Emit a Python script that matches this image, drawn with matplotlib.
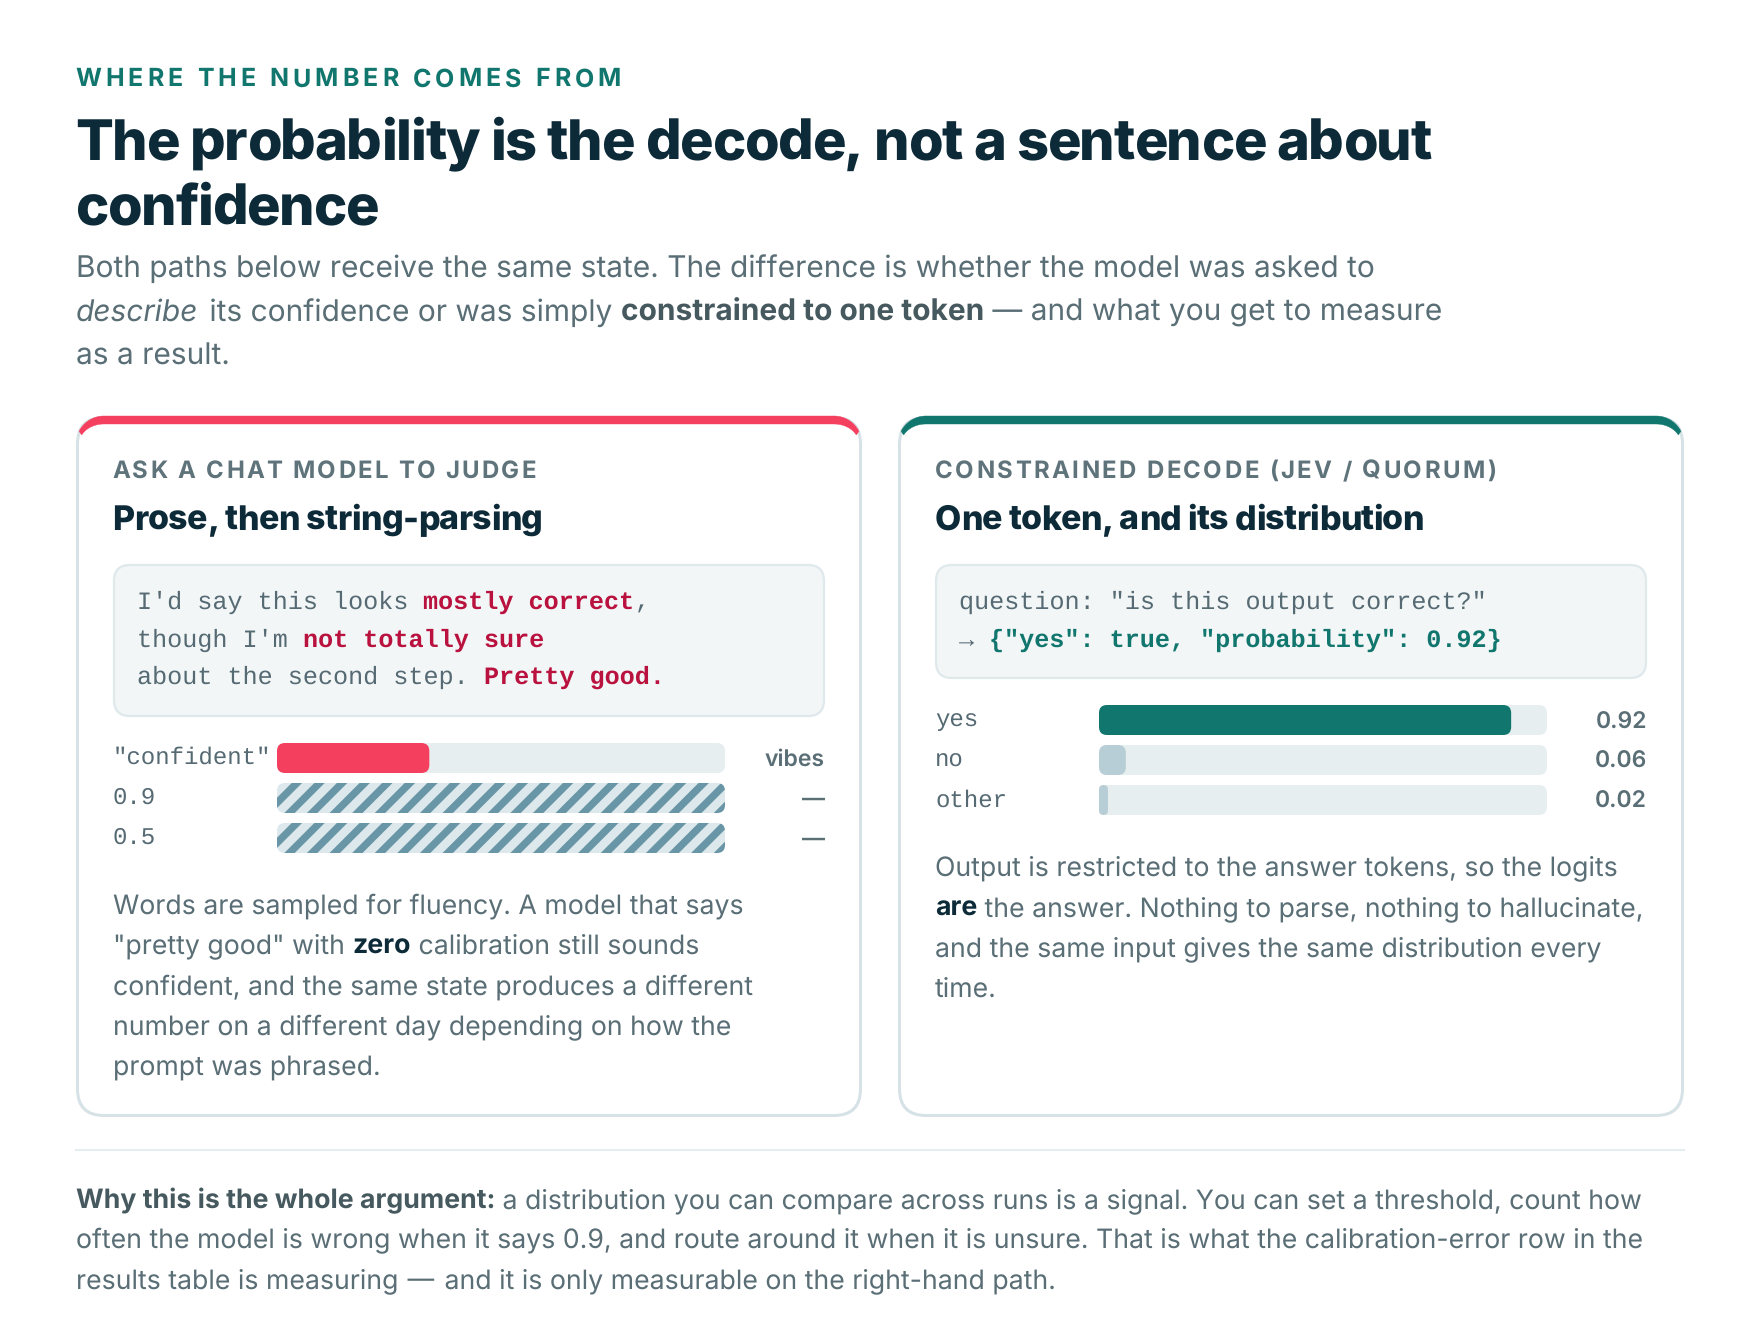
import numpy as np
import matplotlib
matplotlib.use("Agg")
import matplotlib.pyplot as plt
from matplotlib.font_manager import FontProperties
from matplotlib.patches import FancyBboxPatch, Polygon

# data
left_labels = ['"confident"', '0.9', '0.5']
left_values = [0.34, None, None]
left_readouts = ['vibes', '—', '—']
right_labels = ['yes', 'no', 'other']
right_values = [0.92, 0.06, 0.02]
right_readouts = ['0.92', '0.06', '0.02']

TEAL = '#11766d'
RED = '#f43f5e'
CRIMSON = '#b9123f'
INK = '#0d2a38'
BODY = '#5a6e76'
KICKER = '#5f737b'
MONO = '#566a73'
TRACK = '#e6eef0'
BORDER = '#d6e2e6'

plt.rcParams['text.hinting'] = 'none'

W, H = 1760, 1328
fig = plt.figure(figsize=(W / 100, H / 100), dpi=100, facecolor='white')
ax = fig.add_axes([0, 0, 1, 1])
ax.set_xlim(0, W)
ax.set_ylim(H, 0)
ax.axis('off')
renderer = fig.canvas.get_renderer()


def prop(family='Inter', size=28, weight='normal', style='normal'):
    return FontProperties(family=family, size=size * 0.72, weight=weight, style=style)


def width(s, fp):
    a = renderer.get_text_width_height_descent('.' + s + '.', fp, False)[0]
    b = renderer.get_text_width_height_descent('..', fp, False)[0]
    return a - b


def runs(x, y, parts, size, family='Inter', color=BODY):
    # inline runs of differently styled text on one baseline, a number is a gap
    for p in parts:
        if isinstance(p, (int, float)):
            x += p
            continue
        if isinstance(p, str):
            p = (p, {})
        txt, st = p
        fp = prop(family, size, st.get('weight', 'normal'), st.get('style', 'normal'))
        ax.text(x, y, txt, fontproperties=fp, color=st.get('color', color), va='baseline')
        x += width(txt, fp)
    return x


def tracked(x, y, txt, size, weight, color, target):
    # letter-spaced line, spacing chosen so the line is target pixels wide
    fp = prop('Inter', size, weight)
    letter = (target - width(txt, fp)) / (len(txt) - 1)
    for i, ch in enumerate(txt):
        ax.text(x + width(txt[:i], fp) + i * letter, y, ch, fontproperties=fp, color=color, va='baseline')


def corner_band(x0, y0, x1, r, top, side, color):
    # thick top border of a card, tapering round both corners
    t = np.linspace(np.pi / 2, np.pi * 0.85, 30)
    outer = np.c_[x0 + r + r * np.cos(t), y0 + r - r * np.sin(t)]
    inner = np.c_[x0 + r + (r - side) * np.cos(t), y0 + r - (r - top) * np.sin(t)]
    left = np.r_[outer, inner[::-1]]
    right = left.copy()
    right[:, 0] = x0 + x1 - right[:, 0]
    mid = np.array([[x0 + r, y0], [x1 - r, y0], [x1 - r, y0 + top], [x0 + r, y0 + top]])
    for pts in (left, right, mid):
        ax.add_patch(Polygon(pts, closed=True, fc=color, ec=color, lw=0.3, zorder=3))


def card(x0, y0, x1, y1, accent):
    ax.add_patch(FancyBboxPatch((x0, y0), x1 - x0, y1 - y0, boxstyle='round,pad=0,rounding_size=28',
                                fc=BORDER, ec='none', zorder=1))
    ax.add_patch(FancyBboxPatch((x0 + 3, y0 + 3), x1 - x0 - 6, y1 - y0 - 6, boxstyle='round,pad=0,rounding_size=25',
                                fc='white', ec='none', zorder=2))
    corner_band(x0, y0, x1, 28, 8, 3, accent)


def code_box(x0, y0, x1, y1):
    ax.add_patch(FancyBboxPatch((x0 + 1, y0 + 1), x1 - x0 - 2, y1 - y0 - 2, boxstyle='round,pad=0,rounding_size=16',
                                fc='#f2f6f7', ec='#dfe8eb', lw=1.6, zorder=3))


def bar_rows(x0, y0, labels, values, readouts, fills, read_x, label_x, label_dy):
    # one small axes per bar group: x is the probability 0..1, y the row
    tw, pitch = 448, 40
    bax = fig.add_axes([x0 / W, 1 - (y0 + pitch * 3 - 10) / H, tw / W, (pitch * 3 - 10) / H])
    bax.set_xlim(0, 1)
    bax.set_ylim(2.375, -0.375)
    bax.axis('off')
    bax.patch.set_alpha(0)
    aspect = tw / pitch
    for i, v in enumerate(values):
        track = FancyBboxPatch((0, i - 0.375), 1, 0.75, boxstyle='round,pad=0,rounding_size=%f' % (8 / tw),
                               mutation_aspect=aspect, fc=TRACK, ec='none')
        bax.add_patch(track)
        top = y0 + i * pitch
        if v is None:
            track.set_facecolor('#dde8ec')
            # diagonal stripes, in pixels of the row
            clip = FancyBboxPatch((x0, top), tw, 30, boxstyle='round,pad=0,rounding_size=8', transform=ax.transData)
            for k in range(-1, 24):
                a = x0 + 14.7 + 22.6 * (k - 1)
                b = a + 10.4
                s = Polygon([[a, top], [b, top], [b - 30, top + 30], [a - 30, top + 30]], closed=True,
                            fc='#6896a6', ec='none', zorder=4, transform=ax.transData)
                bax.add_patch(s)
                s.set_clip_path(clip)
        else:
            r = min(8, v * tw / 2) / tw
            bax.add_patch(FancyBboxPatch((0, i - 0.375), v, 0.75, boxstyle='round,pad=0,rounding_size=%f' % r,
                                         mutation_aspect=aspect, fc=fills[i], ec='none'))
        ax.text(label_x, top + 21.5 + label_dy, labels[i], fontproperties=prop('Liberation Mono', 24), color=MONO, va='baseline')
        ax.text(read_x, top + 23, readouts[i], fontproperties=prop('Inter', 23, 600), color=BODY, va='baseline', ha='right')


BD = {'weight': 'bold', 'color': '#46595f'}
BK = {'weight': 'bold', 'color': '#0d2a38'}

tracked(75, 86.5, 'WHERE THE NUMBER COMES FROM', 25, 'bold', TEAL, 546)
tracked(75, 160, 'The probability is the decode, not a sentence about', 56, 800, INK, 1357)
tracked(75, 225, 'confidence', 56, 800, INK, 304)
runs(76, 277, ['Both paths below receive the same state. The difference is whether the model was asked to'], 29.9)
runs(76, 321, [('describe', {'style': 'italic'}), 3, ' its confidence or was simply ', ('constrained to one token', BD),
               ' — and what you get to measure'], 29.9)
runs(76, 365, ['as a result.'], 29.9)

card(76, 416, 862, 1117, RED)
card(898, 416, 1684, 1117, TEAL)

tracked(112, 478, 'ASK A CHAT MODEL TO JUDGE', 24, 'bold', KICKER, 424)
tracked(935, 478, 'CONSTRAINED DECODE (JEV / QUORUM)', 24, 'bold', KICKER, 561)
tracked(112, 530, 'Prose, then string-parsing', 34, 800, INK, 431)
tracked(935, 530, 'One token, and its distribution', 34, 800, INK, 489)

code_box(113, 564, 825, 717)
code_box(935, 564, 1647, 679)
R = {'weight': 'bold', 'color': CRIMSON}
G = {'weight': 'bold', 'color': TEAL}
runs(137, 609, ["I'd say this looks ", ('mostly correct', R), ','], 25.12, family='Liberation Mono', color=MONO)
runs(137, 647, ["though I'm ", ('not totally sure', R)], 25.12, family='Liberation Mono', color=MONO)
runs(137, 684, ['about the second step. ', ('Pretty good.', R)], 25.12, family='Liberation Mono', color=MONO)
runs(959, 609, ['question: "is this output correct?"'], 25.12, family='Liberation Mono', color=MONO)
runs(959, 647, ['→ ', ('{"yes": true, "probability": 0.92}', G)], 25.12, family='Liberation Mono', color=MONO)

bar_rows(277, 743, left_labels, left_values, left_readouts, [RED, None, None], 825, 113, -1)
bar_rows(1099, 705, right_labels, right_values, right_readouts, [TEAL, '#b8ced6', '#b8ced6'], 1647, 935, 0)

runs(113, 913.5, ['Words are sampled for fluency. A model that says'], 26.7)
runs(113, 953.5, ['"pretty good" with ', ('zero', BK), ' calibration still sounds'], 26.7)
runs(113, 995, ['confident, and the same state produces a different'], 26.7)
runs(113, 1035.5, ['number on a different day depending on how the'], 26.7)
runs(113, 1074.5, ['prompt was phrased.'], 26.7)

runs(935, 875.5, ['Output is restricted to the answer tokens, so the logits'], 26.7)
runs(935, 916, [('are', BK), ' the answer. Nothing to parse, nothing to hallucinate,'], 26.7)
runs(935, 956, ['and the same input gives the same distribution every'], 26.7)
runs(935, 996.5, ['time.'], 26.7)

ax.plot([76, 1684], [1150, 1150], color='#e6edef', lw=1.5)

runs(76, 1208, [('Why this is the whole argument:', BD), ' a distribution you can compare across runs is a signal. You can set a threshold, count how'], 26.7)
runs(76, 1248, ['often the model is wrong when it says 0.9, and route around it when it is unsure. That is what the calibration-error row in the'], 26.7)
runs(76, 1288, ['results table is measuring', 2, ' —', 2, ' and it is only measurable on the right-hand path.'], 26.7)

fig.savefig('out.png', dpi=100, facecolor='white')
